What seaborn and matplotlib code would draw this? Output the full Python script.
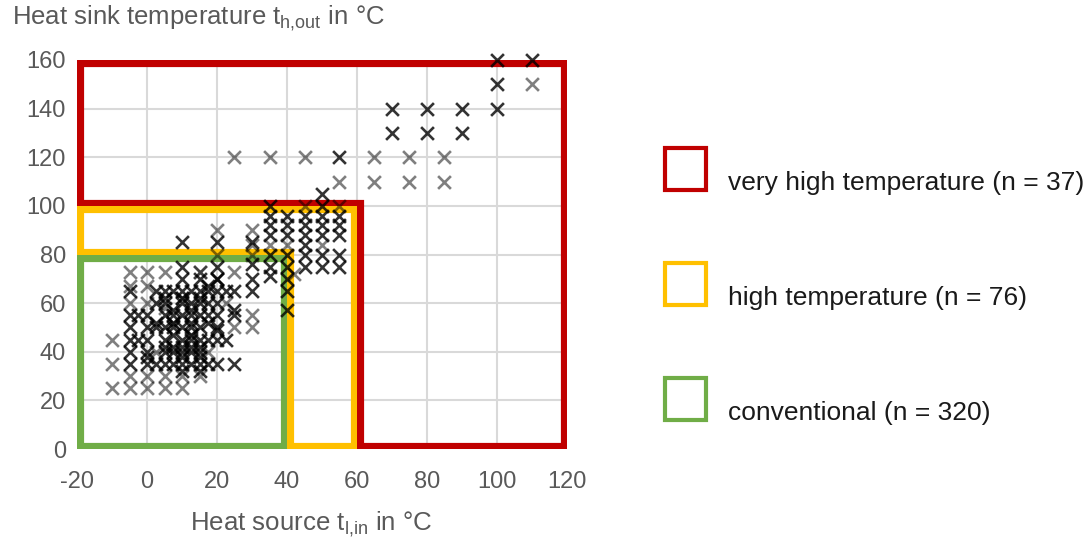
import matplotlib
matplotlib.use("Agg")
import matplotlib.pyplot as plt
import seaborn as sns
import pandas as pd
from matplotlib.patches import Polygon, Rectangle

# ---------------- data ----------------
# dark markers (x = heat source temperature, y = heat sink temperature)
dark_x = [100, 110, 100, 100, 70, 80, 90, 70, 80, 90, 55,
          50, 35, 35, 35, 35, 35, 35, 35,
          40, 40, 40, 40, 40, 40, 40, 40,
          45, 45, 45, 45, 45, 45,
          50, 50, 50, 50, 50, 50,
          55, 55, 55, 55, 55,
          -5, 0, 2.5, 5, 7.5, 10, 12.5, 15, 17.5, 20, 25,
          -5, 0, 5, 7.5, 10, 12.5, 15,
          -5, -2.5, 0, 5, 10, 12.5, 15, 17.5, 20,
          -5, 0, 2.5, 5, 7.5, 10, 12.5, 15, 20,
          -5, -2.5, 0, 5, 7.5, 10, 12.5, 15, 17.5, 20, 25,
          2.5, 5, 10, 12.5, 15, 17.5, 20,
          -5, 5, 7.5, 10, 12.5, 15, 17.5, 20, 25, 30,
          10, 15, 20, 30,
          20, 30, 10, 20, 30, 10, 15, 20, 25,
          5, 7.5, 10, 12.5, 15, 2.5, 7.5, 12.5, 17.5,
          5, 10, 15, 7.5, 12.5, 0, 10, 15, 12.5, 7.5,
          22.5, 22.5, 20, 17.5, 2.5, 10]
dark_y = [160, 160, 150, 140, 140, 140, 140, 130, 130, 130, 120,
          105, 100, 96, 92, 88, 80, 75, 71,
          96, 92, 88, 80, 75, 70, 65, 57,
          96, 92, 88, 84, 80, 75,
          100, 96, 92, 88, 80, 75,
          96, 92, 88, 80, 75,
          35, 35, 35, 35, 35, 35, 35, 35, 35, 35, 35,
          40, 40, 40, 40, 40, 40, 40,
          45, 45, 45, 45, 45, 45, 45, 45, 45,
          50, 50, 50, 50, 50, 50, 50, 50, 50,
          55, 55, 55, 55, 55, 55, 55, 55, 55, 55, 55,
          60, 60, 60, 60, 60, 60, 60,
          65, 65, 65, 65, 65, 65, 65, 65, 65, 65,
          70, 70, 70, 70,
          75, 76, 85, 85, 85, 32, 32, 49, 57,
          42, 42, 42, 42, 42, 52, 52, 52, 52,
          62, 62, 62, 47, 47, 38, 38, 38, 57, 57,
          65, 45, 70, 67, 65, 75]

# light markers
light_x = [110, 25, 35, 45, 65, 75, 85, 55, 65, 75, 85,
           55, 45, 50, 40, 35, 30, 30,
           -10, -5, 0, 5, 10,
           -5, 0, 5, 10, 15,
           -10, -10, -5, 0, 5, 15,
           -5, 0, -5, 0, 22.5, 25, 30, 30,
           20, 30, 15, 25, 20, 2.5, 17.5, 7.5, 12.5, 5, 10, 42]
light_y = [150, 120, 120, 120, 120, 120, 120, 110, 110, 110, 110,
           100, 100, 84, 84, 84, 84, 80,
           25, 25, 25, 25, 25,
           30, 30, 30, 30, 30,
           35, 45, 73, 73, 73, 73,
           67, 67, 60, 60, 60, 50, 50, 55,
           90, 90, 73, 73, 80, 40, 40, 52, 47, 58, 62, 72]

# class regions (boundary vertices in data units)
red_x = [-20, -20, 120, 120, 60, 60]
red_y = [100, 160, 160, 0, 0, 100]
yellow_x = [-20, -20, 60, 60, 40, 40]
yellow_y = [80, 100, 100, 0, 0, 80]
green_x = [-20, -20, 40, 40]
green_y = [0, 80, 80, 0]

region_labels = ["very high temperature (n = 37)",
                 "high temperature (n = 76)",
                 "conventional (n = 320)"]
region_colors = ["#C00000", "#FFC000", "#70AD47"]

x_ticks = [-20, 0, 20, 40, 60, 80, 100, 120]
y_ticks = [0, 20, 40, 60, 80, 100, 120, 140, 160]

# ---------------- plot ----------------
sns.set_theme(style="white")
plt.rcParams["font.family"] = ["Liberation Sans", "DejaVu Sans"]
plt.rcParams["mathtext.fontset"] = "custom"
plt.rcParams["mathtext.rm"] = "Liberation Sans"
plt.rcParams["mathtext.it"] = "Liberation Sans"

text_color = "#595959"

fig = plt.figure(figsize=(10.89, 5.41), dpi=100)
ax = fig.add_axes([77 / 1089, 92 / 541, 490 / 1089, 389 / 541])

for xs, ys, col in [(red_x, red_y, region_colors[0]),
                    (yellow_x, yellow_y, region_colors[1]),
                    (green_x, green_y, region_colors[2])]:
    verts = list(zip(xs, ys))
    clip = Polygon(verts, closed=True, transform=ax.transData)
    p = Polygon(verts, closed=True, fill=False, edgecolor=col, lw=9.5,
                joinstyle="miter", zorder=3)
    ax.add_patch(p)
    p.set_clip_path(clip)

df_dark = pd.DataFrame({"x": dark_x, "y": dark_y})
df_light = pd.DataFrame({"x": light_x, "y": light_y})
sns.scatterplot(data=df_light, x="x", y="y", marker="x", s=85, color="black",
                alpha=0.5, linewidth=1.9, ax=ax, zorder=4, clip_on=False)
sns.scatterplot(data=df_dark, x="x", y="y", marker="x", s=85, color="black",
                alpha=0.8, linewidth=1.9, ax=ax, zorder=5, clip_on=False)

ax.set_xlim(-20, 120)
ax.set_ylim(0, 160)
ax.set_xticks(x_ticks)
ax.set_yticks(y_ticks)
ax.set_xticklabels([str(v) for v in x_ticks])
ax.set_yticklabels([str(v) for v in y_ticks])
ax.grid(True, color="#d9d9d9", lw=1.5, zorder=0)
ax.set_axisbelow(True)
for s in ax.spines.values():
    s.set_visible(False)
ax.tick_params(axis="both", length=0, labelsize=17, labelcolor=text_color)
ax.tick_params(axis="x", pad=16)
ax.tick_params(axis="y", pad=8)
ax.set_xlabel("")
ax.set_ylabel("")

fig.text(190 / 1089, 1 - 524 / 541, r"Heat source t$_{\mathrm{l{,}in}}$ in °C",
         fontsize=18.6, color=text_color, ha="left", va="center")
fig.text(12 / 1089, 1 - 18 / 541, r"Heat sink temperature t$_{\mathrm{h{,}out}}$ in °C",
         fontsize=18.5, color=text_color, ha="left", va="center")

# legend
sq_y = [148, 263, 378]
txt_y = [183, 298, 413]
for lab, col, sy, ty in zip(region_labels, region_colors, sq_y, txt_y):
    fig.add_artist(Rectangle((665 / 1089, 1 - (sy + 42) / 541), 41 / 1089, 42 / 541,
                             transform=fig.transFigure, fill=False,
                             edgecolor=col, lw=3))
    fig.text(728 / 1089, 1 - ty / 541, lab, fontsize=19, color="#1a1a1a",
             ha="left", va="center")

fig.savefig("out.png", dpi=100)
